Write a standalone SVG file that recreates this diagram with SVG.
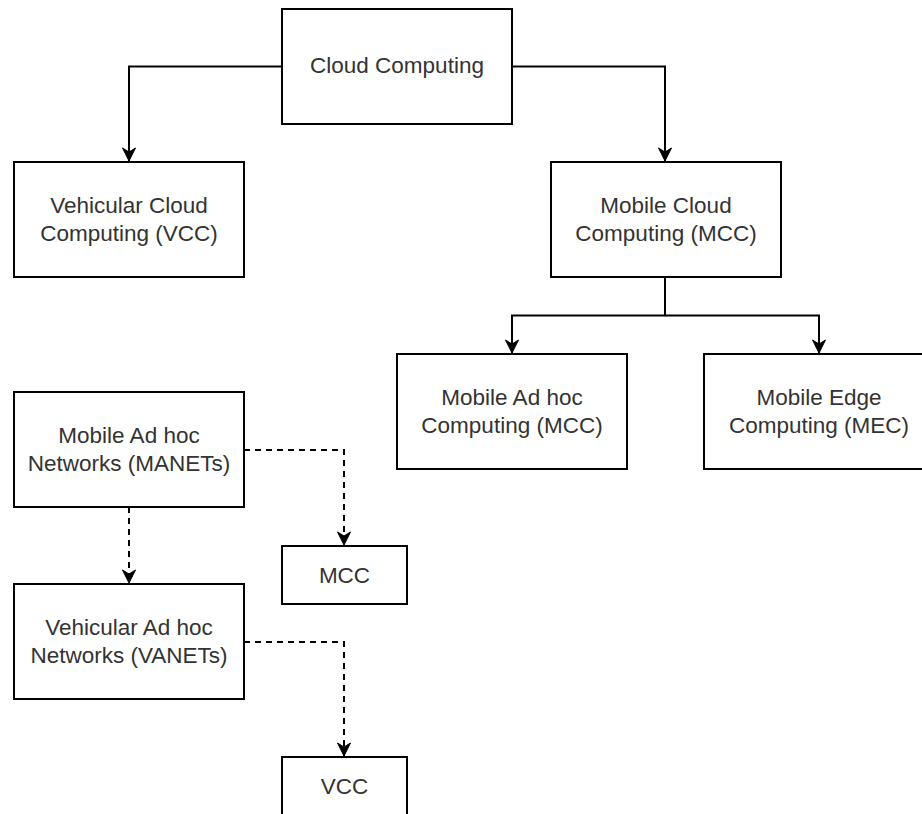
<svg xmlns="http://www.w3.org/2000/svg" width="922" height="814" viewBox="0 0 922 814">
<style>
.box{fill:#fff;stroke:#000;stroke-width:2}
.t{font-family:"Liberation Sans",Arial,Helvetica,sans-serif;font-size:22.5px;fill:#333;text-anchor:middle}
.c{fill:none;stroke:#000;stroke-width:2}
.d{stroke-dasharray:6 5}
</style>
<defs>
<marker id="ah" markerUnits="userSpaceOnUse" markerWidth="16" markerHeight="16" viewBox="-14 -8 16 16" refX="0" refY="0" orient="auto">
<path d="M0,0 L-13,-6.5 L-9,0 L-13,6.5 Z" fill="#000" stroke="#000" stroke-width="1"/>
</marker>
</defs>
<rect width="922" height="814" fill="#fff"/>
<g id="connectors">
<path class="c" d="M282,66.5 H129 V161" marker-end="url(#ah)"/>
<path class="c" d="M512,66.5 H665 V161" marker-end="url(#ah)"/>
<path class="c" d="M665,277 V315.5 H512 V353" marker-end="url(#ah)"/>
<path class="c" d="M665,315.5 H819 V353" marker-end="url(#ah)"/>
<path class="c d" d="M244,450 H344 V545" marker-end="url(#ah)"/>
<path class="c d" d="M129,507 V583" marker-end="url(#ah)"/>
<path class="c d" d="M244,642 H344 V756" marker-end="url(#ah)"/>
</g>
<g id="cloud">
<rect class="box" x="282" y="9" width="230" height="115"/>
<text class="t" x="397" y="73">Cloud Computing</text>
</g>
<g id="vcc">
<rect class="box" x="14" y="162" width="230" height="115"/>
<text class="t" x="129" y="213">Vehicular Cloud</text>
<text class="t" x="129" y="241">Computing (VCC)</text>
</g>
<g id="mcc">
<rect class="box" x="551" y="162" width="230" height="115"/>
<text class="t" x="666" y="213">Mobile Cloud</text>
<text class="t" x="666" y="241">Computing (MCC)</text>
</g>
<g id="mahc">
<rect class="box" x="397" y="354" width="230" height="115"/>
<text class="t" x="512" y="405">Mobile Ad hoc</text>
<text class="t" x="512" y="433">Computing (MCC)</text>
</g>
<g id="mec">
<rect class="box" x="704" y="354" width="230" height="115"/>
<text class="t" x="819" y="405">Mobile Edge</text>
<text class="t" x="819" y="433">Computing (MEC)</text>
</g>
<g id="manets">
<rect class="box" x="14" y="392" width="230" height="115"/>
<text class="t" x="129" y="443">Mobile Ad hoc</text>
<text class="t" x="129" y="471">Networks (MANETs)</text>
</g>
<g id="vanets">
<rect class="box" x="14" y="584" width="230" height="115"/>
<text class="t" x="129" y="635">Vehicular Ad hoc</text>
<text class="t" x="129" y="663">Networks (VANETs)</text>
</g>
<g id="mcc-small">
<rect class="box" x="282" y="546" width="125" height="58"/>
<text class="t" x="344.5" y="583">MCC</text>
</g>
<g id="vcc-small">
<rect class="box" x="282" y="757" width="125" height="58"/>
<text class="t" x="344.5" y="794">VCC</text>
</g>
</svg>
